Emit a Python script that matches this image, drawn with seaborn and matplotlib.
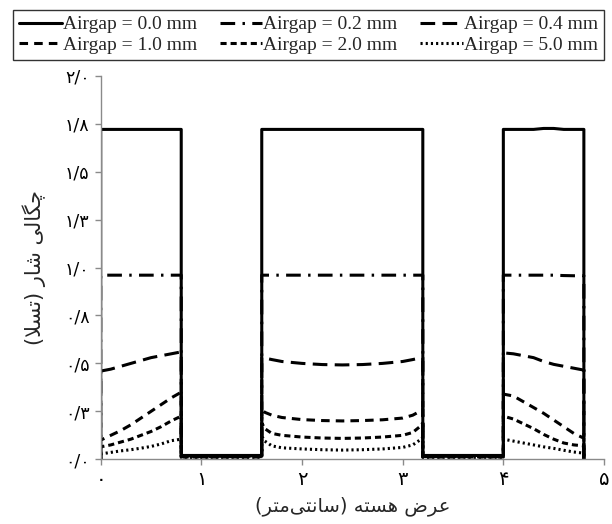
import numpy as np
import pandas as pd
import matplotlib
matplotlib.use("Agg")
import matplotlib.pyplot as plt
import seaborn as sns

# ---------------- data ----------------
series_labels = ["Airgap = 0.0 mm", "Airgap = 0.2 mm", "Airgap = 0.4 mm",
                 "Airgap = 1.0 mm", "Airgap = 2.0 mm", "Airgap = 5.0 mm"]

tooth1_x = [0.0, 0.1, 0.2, 0.3, 0.4, 0.5, 0.6, 0.7, 0.8]
tooth2_x = [1.6, 1.63, 1.7, 1.8, 2.0, 2.2, 2.4, 2.6, 2.8, 3.0, 3.1, 3.17, 3.2]
tooth3_x = [4.0, 4.1, 4.2, 4.3, 4.4, 4.5, 4.6, 4.7, 4.8]
slot_level = [0.02, 0.018, 0.016, 0.014, 0.012, 0.01]

t1_00 = [1.72, 1.72, 1.72, 1.72, 1.72, 1.72, 1.72, 1.72, 1.72]
t1_02 = [0.96, 0.96, 0.96, 0.96, 0.96, 0.96, 0.96, 0.96, 0.96]
t1_04 = [0.46, 0.47, 0.485, 0.50, 0.515, 0.53, 0.54, 0.55, 0.56]
t1_10 = [0.10, 0.125, 0.15, 0.18, 0.215, 0.25, 0.285, 0.32, 0.35]
t1_20 = [0.065, 0.075, 0.09, 0.105, 0.125, 0.145, 0.17, 0.20, 0.225]
t1_50 = [0.028, 0.036, 0.044, 0.05, 0.058, 0.067, 0.08, 0.097, 0.105]

t2_00 = [1.72] * 13
t2_02 = [0.96] * 13
t2_04 = [0.53, 0.528, 0.52, 0.51, 0.50, 0.494, 0.492, 0.494, 0.50, 0.51, 0.52, 0.528, 0.53]
t2_10 = [0.26, 0.245, 0.23, 0.218, 0.207, 0.202, 0.200, 0.202, 0.206, 0.215, 0.23, 0.25, 0.26]
t2_20 = [0.19, 0.16, 0.135, 0.125, 0.116, 0.111, 0.109, 0.111, 0.116, 0.125, 0.14, 0.17, 0.19]
t2_50 = [0.12, 0.095, 0.07, 0.06, 0.054, 0.05, 0.048, 0.05, 0.054, 0.062, 0.075, 0.10, 0.115]

t3_00 = [1.72, 1.72, 1.72, 1.72, 1.725, 1.725, 1.72, 1.72, 1.72]
t3_02 = [0.96, 0.96, 0.96, 0.96, 0.96, 0.96, 0.958, 0.957, 0.957]
t3_04 = [0.555, 0.55, 0.54, 0.53, 0.51, 0.495, 0.485, 0.475, 0.465]
t3_10 = [0.34, 0.33, 0.30, 0.27, 0.24, 0.205, 0.17, 0.135, 0.11]
t3_20 = [0.225, 0.21, 0.185, 0.16, 0.13, 0.105, 0.085, 0.075, 0.07]
t3_50 = [0.105, 0.095, 0.085, 0.075, 0.065, 0.057, 0.047, 0.038, 0.032]

y_ticks = [0.0, 0.25, 0.5, 0.75, 1.0, 1.25, 1.5, 1.75, 2.0]
y_tick_labels = ["۰/۰", "۰/۳", "۰/۵", "۰/۸", "۱/۰", "۱/۳", "۱/۵", "۱/۸", "۲/۰"]
x_ticks = [0, 1, 2, 3, 4, 5]
x_tick_labels = ["۰", "۱", "۲", "۳", "۴", "۵"]
x_label = "عرض هسته (سانتی\u200cمتر)"
y_label = "چگالی شار (تسلا)"

# ------------- Persian shaping (presentation forms, visual order) -------------
AR_FORMS = {
    '\u0627': ('\uFE8D', '\uFE8E', None, None),
    '\u062A': ('\uFE95', '\uFE96', '\uFE97', '\uFE98'),
    '\u0631': ('\uFEAD', '\uFEAE', None, None),
    '\u0633': ('\uFEB1', '\uFEB2', '\uFEB3', '\uFEB4'),
    '\u0634': ('\uFEB5', '\uFEB6', '\uFEB7', '\uFEB8'),
    '\u0636': ('\uFEBD', '\uFEBE', '\uFEBF', '\uFEC0'),
    '\u0639': ('\uFEC9', '\uFECA', '\uFECB', '\uFECC'),
    '\u0644': ('\uFEDD', '\uFEDE', '\uFEDF', '\uFEE0'),
    '\u0645': ('\uFEE1', '\uFEE2', '\uFEE3', '\uFEE4'),
    '\u0646': ('\uFEE5', '\uFEE6', '\uFEE7', '\uFEE8'),
    '\u0647': ('\uFEE9', '\uFEEA', '\uFEEB', '\uFEEC'),
    '\u0686': ('\uFB7A', '\uFB7B', '\uFB7C', '\uFB7D'),
    '\u06AF': ('\uFB92', '\uFB93', '\uFB94', '\uFB95'),
    '\u06CC': ('\uFBFC', '\uFBFD', '\uFBFE', '\uFBFF'),
}


def shape_rtl(text):
    chars = list(text)
    n = len(chars)

    def dual(c):
        return c in AR_FORMS and AR_FORMS[c][2] is not None

    res = []
    i = 0
    while i < n:
        c = chars[i]
        if c not in AR_FORMS:
            if c != '\u200c':
                res.append(c)
            i += 1
            continue
        prev_j = i > 0 and dual(chars[i - 1])
        if c == '\u0644' and i + 1 < n and chars[i + 1] == '\u0627':
            res.append('\uFEFC' if prev_j else '\uFEFB')
            i += 2
            continue
        next_j = dual(c) and i + 1 < n and chars[i + 1] in AR_FORMS
        iso, fin, ini, med = AR_FORMS[c]
        if prev_j and next_j:
            f = med
        elif prev_j:
            f = fin
        elif next_j:
            f = ini
        else:
            f = iso
        res.append(f)
        i += 1
    vis = ''.join(res)[::-1]
    return vis.translate(str.maketrans('()', ')('))


# ------------- build long table -------------
teeth = {
    series_labels[0]: (t1_00, t2_00, t3_00),
    series_labels[1]: (t1_02, t2_02, t3_02),
    series_labels[2]: (t1_04, t2_04, t3_04),
    series_labels[3]: (t1_10, t2_10, t3_10),
    series_labels[4]: (t1_20, t2_20, t3_20),
    series_labels[5]: (t1_50, t2_50, t3_50),
}
rows = []
for k, lab in enumerate(series_labels):
    a, b, c = teeth[lab]
    s = slot_level[k]
    xs = [tooth1_x[0]] + tooth1_x + [tooth1_x[-1]] + tooth2_x[:1] + tooth2_x + tooth2_x[-1:] \
        + tooth3_x[:1] + tooth3_x + tooth3_x[-1:]
    ys = [0.0] + a + [s] + [s] + b + [s] + [s] + c + [0.0]
    for j, (xv, yv) in enumerate(zip(xs, ys)):
        rows.append({"series": lab, "order": j, "x": xv, "y": yv})
df = pd.DataFrame(rows)

styles = {
    series_labels[0]: dict(linestyle="-"),
    series_labels[1]: dict(dashes=(4.8, 2.4, 0.8, 2.4)),
    series_labels[2]: dict(dashes=(4.8, 2.4)),
    series_labels[3]: dict(dashes=(2.8, 2.0)),
    series_labels[4]: dict(dashes=(2.0, 1.3)),
    series_labels[5]: dict(dashes=(0.7, 1.0)),
}

# ------------- plot -------------
sns.set_style("ticks")
plt.rcParams["font.family"] = ["DejaVu Sans"]

fig = plt.figure(figsize=(6.12, 5.24), dpi=100)
ax = fig.add_axes([100.7 / 612, 1 - 459.3 / 524, (604 - 100.7) / 612, (459.3 - 75.7) / 524])

handles = {}
for lab in series_labels:
    sub = df[df.series == lab]
    sns.lineplot(data=sub, x="x", y="y", ax=ax, sort=False, estimator=None,
                 color="black", linewidth=2.2, label=lab, legend=False, **styles[lab])
    handles[lab] = ax.lines[-1]

ax.set_xlim(0, 5)
ax.set_ylim(0, 2.0)
ax.set_xticks(x_ticks)
ax.set_xticklabels(x_tick_labels, fontsize=14)
ax.set_yticks(y_ticks)
ax.set_yticklabels(y_tick_labels, fontsize=12.5)
ax.set_xlabel(shape_rtl(x_label), fontsize=14, labelpad=5)
ax.set_ylabel(shape_rtl(y_label), fontsize=15, labelpad=14)

sns.despine(ax=ax)
for sp in ("left", "bottom"):
    ax.spines[sp].set_color("#8a8a8a")
    ax.spines[sp].set_linewidth(1.0)
ax.tick_params(axis="both", colors="#8a8a8a", labelcolor="black", length=4, width=1.0,
               direction="out")
ax.tick_params(axis="x", pad=4)
ax.tick_params(axis="y", pad=4)

order = [series_labels[i] for i in (0, 3, 1, 4, 2, 5)]
leg = fig.legend([handles[l] for l in order], order, loc="upper left",
                 bbox_to_anchor=(13 / 612, 1 - 60 / 524, (604 - 13) / 612, 50 / 524),
                 mode="expand", ncol=3, frameon=True, fancybox=False,
                 prop={"family": "Liberation Serif", "size": 14},
                 handlelength=2.2, handletextpad=0.05, columnspacing=1.0,
                 borderpad=0.3, labelspacing=0.15, borderaxespad=0.0)
leg.get_frame().set_edgecolor("black")
leg.get_frame().set_linewidth(1.0)

fig.savefig("out.png", dpi=100)
